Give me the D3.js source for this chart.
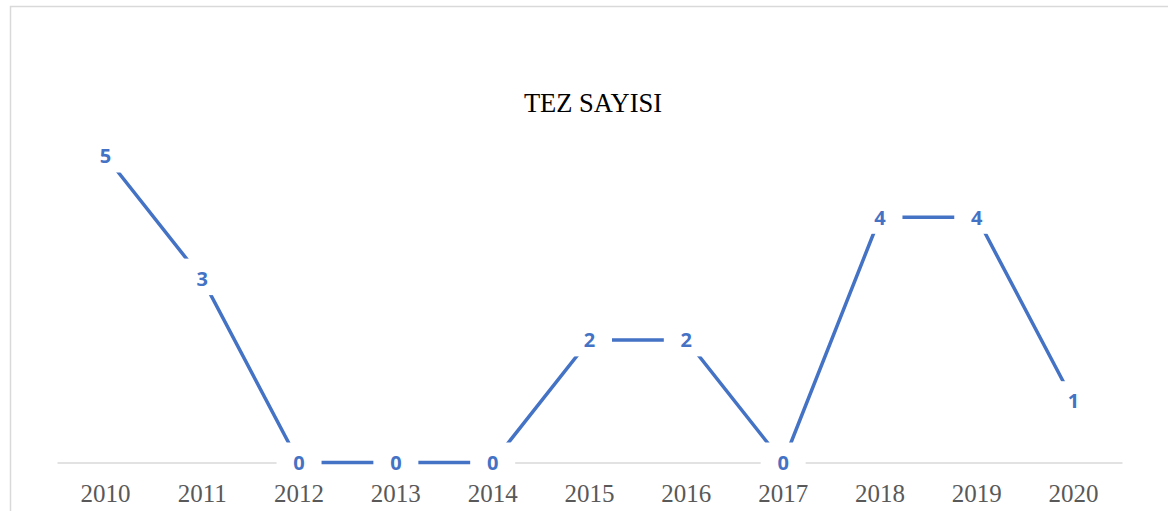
<!DOCTYPE html>
<html>
<head>
<meta charset="utf-8">
<script src="https://cdn.jsdelivr.net/npm/d3@7"></script>
<style>
  body { margin: 0; background: #fff; }
</style>
</head>
<body>
<div id="chart"></div>
<script>
// data
var years = ["2010", "2011", "2012", "2013", "2014", "2015", "2016", "2017", "2018", "2019", "2020"];
var counts = [5, 3, 0, 0, 0, 2, 2, 0, 4, 4, 1];
var chartTitle = "TEZ SAYISI";

var W = 1168, H = 511;
var left = 57, right = 1122;

var svg = d3.select("#chart")
    .append("svg")
    .attr("width", W)
    .attr("height", H);

// chart frame (right and bottom fall outside the crop)
svg.append("rect")
    .attr("x", 10.5)
    .attr("y", 6.5)
    .attr("width", 1200)
    .attr("height", 600)
    .attr("fill", "none")
    .attr("stroke", "#d9d9d9")
    .attr("stroke-width", 1.5);

var x = d3.scaleBand()
    .domain(years)
    .range([left, right]);

var y = d3.scaleLinear()
    .domain([0, 5])
    .range([462.5, 156]);

// x axis
var xAxis = svg.append("g")
    .attr("transform", "translate(0," + y(0) + ")")
    .call(d3.axisBottom(x).tickSize(0).tickPadding(22));
xAxis.select(".domain")
    .attr("stroke", "#d9d9d9")
    .attr("stroke-width", 1.5);
xAxis.selectAll("text")
    .style("font-family", "'Liberation Serif', 'Times New Roman', serif")
    .style("font-size", "25px")
    .attr("fill", "#595959");

// title
svg.append("text")
    .attr("x", 593)
    .attr("y", 112)
    .attr("text-anchor", "middle")
    .style("font-family", "'Liberation Serif', 'Times New Roman', serif")
    .style("font-size", "26.5px")
    .attr("fill", "#000")
    .text(chartTitle);

var pts = years.map(function(d, i) { return { year: d, value: counts[i] }; });

var line = d3.line()
    .x(function(d) { return x(d.year) + x.bandwidth() / 2; })
    .y(function(d) { return y(d.value); });

svg.append("path")
    .datum(pts)
    .attr("d", line)
    .attr("fill", "none")
    .attr("stroke", "#4472c4")
    .attr("stroke-width", 3.5);

// white boxes behind data labels cut the line
svg.selectAll(".lblbox")
    .data(pts)
    .enter()
    .append("rect")
    .attr("x", function(d) { return x(d.year) + x.bandwidth() / 2 - 22.5; })
    .attr("y", function(d) { return y(d.value) - 20; })
    .attr("width", 45)
    .attr("height", 36.5)
    .attr("fill", "#fff");

svg.selectAll(".lbl")
    .data(pts)
    .enter()
    .append("text")
    .attr("x", function(d) { return x(d.year) + x.bandwidth() / 2; })
    .attr("y", function(d) { return y(d.value); })
    .attr("dy", "0.36em")
    .attr("text-anchor", "middle")
    .style("font-family", "'Open Sans', sans-serif")
    .style("font-weight", "bold")
    .style("font-size", "20px")
    .attr("fill", "#4472c4")
    .text(function(d) { return d.value; });
</script>
</body>
</html>
